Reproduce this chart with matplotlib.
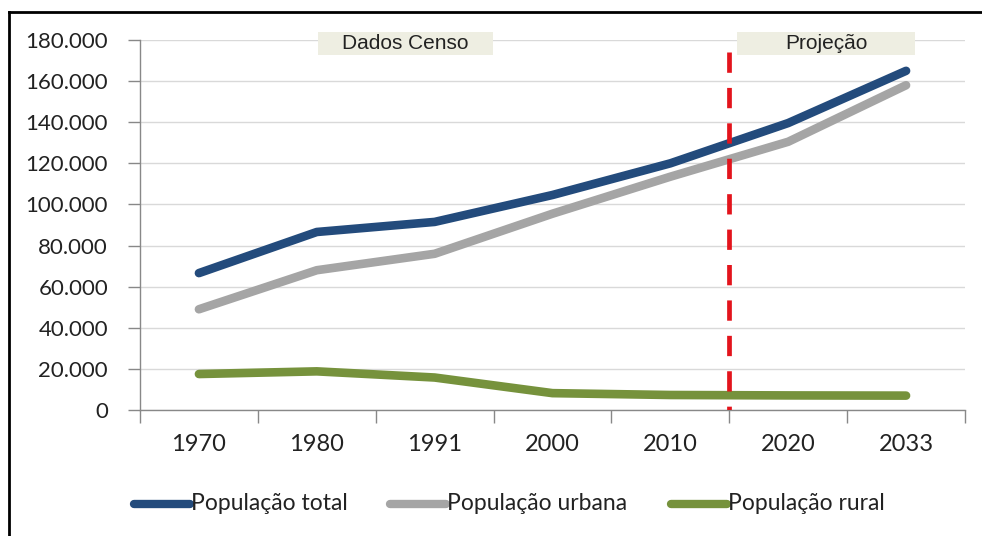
import matplotlib
matplotlib.use('Agg')
import matplotlib.pyplot as plt
from matplotlib.lines import Line2D
from matplotlib.ticker import FuncFormatter
from matplotlib.patches import Rectangle

years = ['1970', '1980', '1991', '2000', '2010', '2020', '2033']
pop_total = [66600, 86600, 91500, 104600, 120000, 139600, 165000]
pop_urbana = [49000, 68000, 76000, 95500, 113500, 130500, 158000]
pop_rural = [17500, 18800, 15800, 8200, 7300, 7100, 7000]
series_names = ['População total', 'População urbana', 'População rural']
colors = ['#234B7C', '#A5A5A5', '#76923C']

plt.rcParams['font.family'] = ['Lato', 'DejaVu Sans']

W, H = 982, 536
fig = plt.figure(figsize=(W / 100, H / 100), dpi=100)
ax = fig.add_axes([140 / W, (H - 410) / H, (965 - 140) / W, 370 / H])

x = list(range(len(years)))
for vals, c in zip([pop_total, pop_urbana, pop_rural], colors):
    ax.plot(x, vals, color=c, lw=6.2, solid_capstyle='round', solid_joinstyle='round', zorder=3)

# split between census data and projection (drawn top-down so the first dash is at the top)
ax.plot([4.5, 4.5], [174000, 0], color='#E3141C', lw=3.4, dashes=(4.3, 3.2), zorder=4)

ax.set_xlim(-0.5, len(years) - 0.5)
ax.set_ylim(0, 180000)
ax.set_yticks(range(0, 180001, 20000))
ax.yaxis.set_major_formatter(FuncFormatter(lambda v, p: '{:,.0f}'.format(v).replace(',', '.')))
ax.set_xticks(x)
ax.set_xticklabels(years)
ax.set_xticks([i - 0.5 for i in range(len(years) + 1)], minor=True)
ax.tick_params(axis='x', which='major', length=0, pad=17, labelsize=17, colors='#222222')
ax.tick_params(axis='x', which='minor', length=9, width=1, color='#888888')
ax.tick_params(axis='y', length=9, width=1, color='#888888', pad=14, labelsize=16, labelcolor='#222222')
ax.grid(axis='y', color='#D9D9D9', lw=1)
ax.set_axisbelow(True)
for s in ['top', 'right']:
    ax.spines[s].set_visible(False)
for s in ['left', 'bottom']:
    ax.spines[s].set_color('#888888')
    ax.spines[s].set_linewidth(1)

# header boxes
for txt, x0, x1 in [('Dados Censo', 318, 493), ('Projeção', 737, 915)]:
    fig.patches.append(Rectangle((x0 / W, (H - 55) / H), (x1 - x0) / W, 23 / H,
                                 transform=fig.transFigure, facecolor='#EEEEE2', edgecolor='none'))
    fig.text((x0 + x1) / 2 / W, (H - 43.5) / H, txt, ha='center', va='center',
             fontsize=15, color='#222222', family=['Liberation Sans', 'DejaVu Sans'])

# legend
for name, c, lx in zip(series_names, colors, [134, 390, 671]):
    fig.add_artist(Line2D([lx / W, (lx + 56) / W], [(H - 504) / H] * 2, color=c, lw=6,
                          solid_capstyle='round', transform=fig.transFigure))
    fig.text((lx + 57) / W, (H - 504) / H, name, ha='left', va='center', fontsize=16.5, color='#222222')

# frame
fig.add_artist(Line2D([9 / W, 9 / W], [0, (H - 12) / H], color='black', lw=2, transform=fig.transFigure))
fig.add_artist(Line2D([9 / W, 1], [(H - 12) / H] * 2, color='black', lw=2, transform=fig.transFigure))

fig.savefig('out.png', dpi=100)
